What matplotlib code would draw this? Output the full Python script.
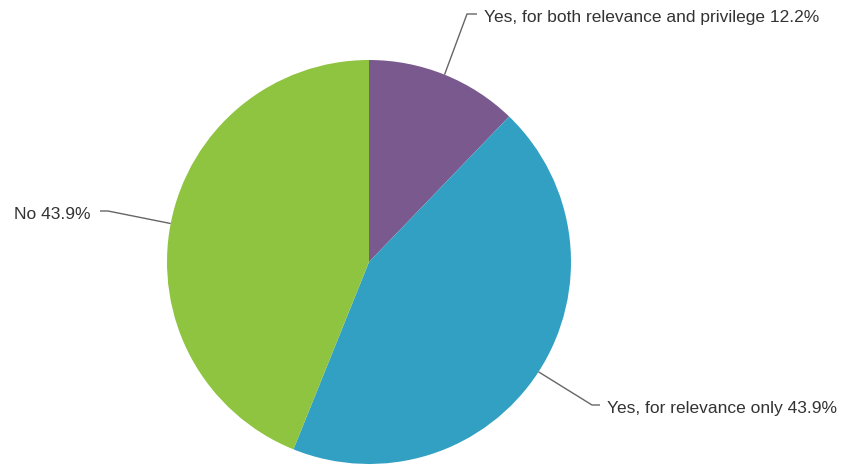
import numpy as np
import matplotlib
matplotlib.use("Agg")
import matplotlib.pyplot as plt

labels = ["Yes, for both relevance and privilege", "Yes, for relevance only", "No"]
values = [12.2, 43.9, 43.9]
colors = ["#7a598f", "#31a0c2", "#8ec43f"]

W, H = 848, 465
fig = plt.figure(figsize=(W / 100, H / 100), dpi=100)
ax = fig.add_axes([0, 0, 1, 1])

cx, cy, r = 369, H - 262, 202
wedges, _ = ax.pie(values, colors=colors, startangle=90, counterclock=False,
                   center=(cx, cy), radius=r, frame=True,
                   wedgeprops=dict(edgecolor="none", linewidth=0))
ax.set_xlim(0, W)
ax.set_ylim(0, H)
ax.set_aspect("equal")
ax.axis("off")

# label layout: elbow point, end of horizontal tick, text anchor, alignment
layout = [
    ((467, H - 14), (477, H - 14), (484, H - 17), "left"),
    ((592, H - 405), (600, H - 405), (607, H - 408), "left"),
    ((108, H - 211), (100, H - 211), (90, H - 214), "right"),
]
for w, lab, val, (elbow, tick, tpos, ha) in zip(wedges, labels, values, layout):
    mid = np.deg2rad((w.theta1 + w.theta2) / 2)
    ex, ey = cx + r * np.cos(mid), cy + r * np.sin(mid)
    ax.plot([ex, elbow[0], tick[0]], [ey, elbow[1], tick[1]], color="#666666", lw=1.0,
            solid_capstyle="butt")
    ax.text(tpos[0], tpos[1], f"{lab} {val}%", ha=ha, va="center",
            fontsize=12.5, family="Liberation Sans", color="#333333")

fig.savefig("out.png", dpi=100)
